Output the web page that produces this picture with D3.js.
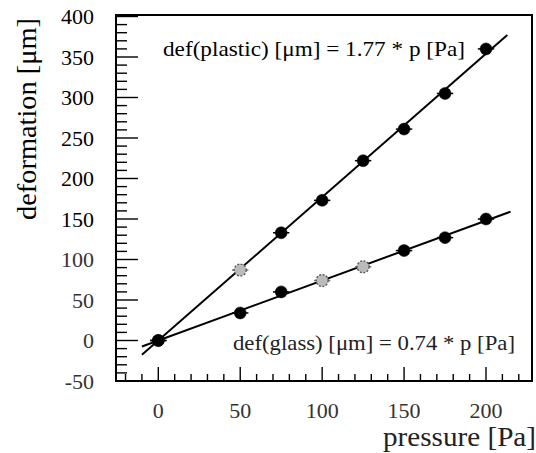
<!DOCTYPE html>
<html>
<head>
<meta charset="utf-8">
<script src="https://cdn.jsdelivr.net/npm/d3@7"></script>
<style>
  html, body { margin: 0; padding: 0; background: #fff; }
  svg { display: block; }
  text { font-family: "Liberation Serif", "Times New Roman", serif; fill: #000; }
</style>
</head>
<body>
<script>
// Measured deformation of the two membranes under applied pressure
const pressure = [0, 50, 75, 100, 125, 150, 175, 200];
const plastic  = [0, 87, 133, 173, 222, 261, 305, 360];
const glass    = [0, 34, 60, 74, 91, 111, 127, 150];

// Linear fits through the origin (slopes in um / Pa)
const fitNames  = ["plastic", "glass"];
const fitSlopes = [1.77, 0.74];
const fitRange  = [[-10, 213], [-10, 215]];

// Measurements whose markers came out faint
const plasticFaint = [50];
const glassFaint   = [100, 125];

// Axis ticks
const xMajor = [0, 50, 100, 150, 200];
const yMajor = [-50, 0, 50, 100, 150, 200, 250, 300, 350, 400];

const W = 536, H = 453;
const frame = { left: 116, right: 532, top: 15, bottom: 381 };

const svg = d3.select("body").append("svg").attr("width", W).attr("height", H);

const x = d3.scaleLinear().domain([0, 200]).range([158.3, 486]);
const y = d3.scaleLinear().domain([-50, 400]).range([381, 16.5]);

// frame
svg.append("rect")
  .attr("x", frame.left).attr("y", frame.top)
  .attr("width", frame.right - frame.left).attr("height", frame.bottom - frame.top)
  .attr("fill", "none").attr("stroke", "#000").attr("stroke-width", 2);

// y ticks: minor every 10, major every 50 (inward)
const yMinor = d3.range(-50, 401, 10);
svg.append("g").selectAll("line").data(yMinor).join("line")
  .attr("x1", frame.left).attr("x2", d => frame.left + (d % 50 === 0 ? 22 : 11))
  .attr("y1", d => y(d)).attr("y2", d => y(d))
  .attr("stroke", "#000").attr("stroke-width", 1.4);

// x ticks: minor every 10, major every 50 (inward)
const xMinor = d3.range(-20, 221, 10);
svg.append("g").selectAll("line").data(xMinor).join("line")
  .attr("x1", d => x(d)).attr("x2", d => x(d))
  .attr("y1", frame.bottom).attr("y2", d => frame.bottom - (d % 50 === 0 ? 14 : 7))
  .attr("stroke", "#000").attr("stroke-width", 1.4);

// y tick labels
svg.append("g").selectAll("text").data(yMajor).join("text")
  .attr("x", 94).attr("y", d => y(d))
  .attr("dy", "0.35em")
  .attr("text-anchor", "end")
  .attr("font-size", 22)
  .style("fill", d => d <= 100 ? "#333" : "#000")
  .text(d => d);

// x tick labels
svg.append("g").selectAll("text").data(xMajor).join("text")
  .attr("x", d => x(d)).attr("y", 418)
  .attr("text-anchor", "middle")
  .attr("font-size", 22)
  .style("fill", "#333")
  .text(d => d);

// axis titles
svg.append("text")
  .attr("transform", "translate(36,119) rotate(-90)")
  .attr("text-anchor", "middle")
  .attr("font-size", 28)
  .attr("textLength", 202).attr("lengthAdjust", "spacingAndGlyphs")
  .text("deformation [μm]");

svg.append("text")
  .attr("x", 383).attr("y", 446)
  .attr("font-size", 28)
  .attr("textLength", 153).attr("lengthAdjust", "spacingAndGlyphs")
  .style("fill", "#222")
  .text("pressure [Pa]");

// fit lines
const plot = svg.append("g");
fitSlopes.forEach((k, i) => {
  const [p0, p1] = fitRange[i];
  plot.append("line")
    .attr("class", "fit-" + fitNames[i])
    .attr("x1", x(p0)).attr("y1", y(k * p0))
    .attr("x2", x(p1)).attr("y2", y(k * p1))
    .attr("stroke", "#000").attr("stroke-width", 2);
});

// markers with horizontal error bars
const xErr = 5;
function drawSeries(values, faint) {
  const pts = pressure.map((p, i) => ({ p, v: values[i], faint: faint.includes(p) }));
  const g = plot.append("g");
  g.selectAll("line.err").data(pts).join("line")
    .attr("class", "err")
    .attr("x1", d => x(d.p - xErr)).attr("x2", d => x(d.p + xErr))
    .attr("y1", d => y(d.v)).attr("y2", d => y(d.v))
    .attr("stroke", d => d.faint ? "#777" : "#000").attr("stroke-width", 1.5);
  g.selectAll("circle").data(pts).join("circle")
    .attr("cx", d => x(d.p)).attr("cy", d => y(d.v))
    .attr("r", 6)
    .attr("fill", d => d.faint ? "#bbb" : "#000")
    .attr("stroke", d => d.faint ? "#555" : "#000")
    .attr("stroke-width", d => d.faint ? 1.3 : 0.5)
    .attr("stroke-dasharray", d => d.faint ? "2,1.5" : null);
}
drawSeries(plastic, plasticFaint);
drawSeries(glass, glassFaint);

// fit formulas
svg.append("text")
  .attr("x", 163).attr("y", 56)
  .attr("font-size", 22)
  .attr("textLength", 302).attr("lengthAdjust", "spacingAndGlyphs")
  .text("def(plastic) [μm] = 1.77 * p [Pa]");

svg.append("text")
  .attr("x", 233).attr("y", 350)
  .attr("font-size", 21)
  .attr("textLength", 282).attr("lengthAdjust", "spacingAndGlyphs")
  .style("fill", "#222")
  .text("def(glass) [μm] = 0.74 * p [Pa]");
</script>
</body>
</html>
